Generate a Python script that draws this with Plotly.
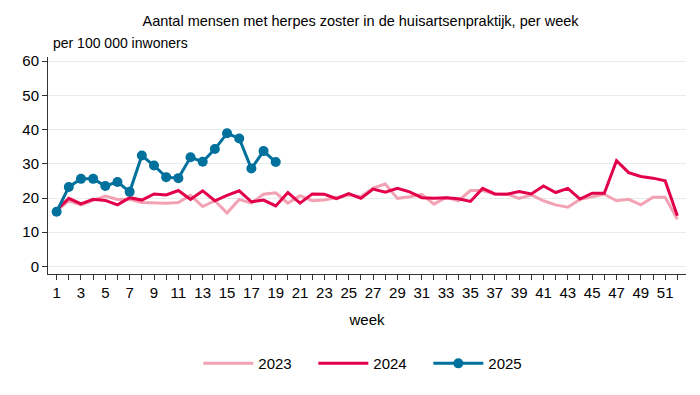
import plotly.graph_objects as go

weeks_2023 = list(range(1, 53))
values_2023 = [16.3, 19.2, 18.0, 19.4, 20.6, 19.6, 19.6, 18.7, 18.5, 18.5,
               18.7, 20.8, 17.5, 19.2, 15.6, 19.6, 18.5, 21.1, 21.5, 18.5,
               20.7, 19.2, 19.4, 20.2, 20.9, 20.4, 22.9, 24.1, 19.9, 20.4,
               21.1, 18.2, 20.2, 19.2, 22.2, 22.2, 21.2, 21.2, 19.9, 20.9,
               19.2, 18.0, 17.3, 19.6, 20.4, 21.1, 19.2, 19.6, 18.0, 20.2,
               20.2, 13.8]

weeks_2024 = list(range(1, 53))
values_2024 = [16.5, 19.9, 18.3, 19.6, 19.3, 18.0, 20.1, 19.4, 21.2, 20.9,
               22.2, 19.6, 22.1, 19.2, 20.8, 22.1, 18.9, 19.4, 17.7, 21.6,
               18.5, 21.2, 21.1, 19.8, 21.3, 19.9, 22.6, 21.7, 22.8, 21.8,
               20.1, 19.9, 20.1, 19.8, 19.0, 22.8, 21.2, 21.1, 21.9, 21.2,
               23.5, 21.6, 22.8, 19.7, 21.4, 21.4, 30.9, 27.4, 26.3, 25.8,
               25.0, 14.8]

weeks_2025 = list(range(1, 20))
values_2025 = [16.0, 23.2, 25.6, 25.6, 23.5, 24.7, 21.8, 32.4, 29.5, 26.1,
               25.8, 31.9, 30.6, 34.3, 38.9, 37.4, 28.6, 33.7, 30.5]

FONT = "Arial, Liberation Sans, sans-serif"
PINK = "#f3a2b4"
RED = "#e3004b"
BLUE = "#00719c"

fig = go.Figure()
fig.add_trace(go.Scatter(x=weeks_2023, y=values_2023, mode="lines", name="2023",
                         line=dict(color=PINK, width=3)))
fig.add_trace(go.Scatter(x=weeks_2024, y=values_2024, mode="lines", name="2024",
                         line=dict(color=RED, width=3)))
fig.add_trace(go.Scatter(x=weeks_2025, y=values_2025, mode="lines+markers", name="2025",
                         line=dict(color=BLUE, width=3),
                         marker=dict(color=BLUE, size=10)))

fig.update_layout(
    width=700, height=395,
    paper_bgcolor="white", plot_bgcolor="white",
    margin=dict(l=48, r=14, t=57, b=121),
    font=dict(family=FONT, size=14, color="#000000"),
    title=dict(text="Aantal mensen met herpes zoster in de huisartsenpraktijk, per week",
               x=0.515, xanchor="center", y=0.948, yanchor="middle",
               font=dict(size=14.5, color="#000000")),
    showlegend=True,
    legend=dict(orientation="h", x=0.506, xanchor="center", y=-0.413, yanchor="middle",
                font=dict(size=15), itemwidth=50, traceorder="normal",
                entrywidth=50, entrywidthmode="pixels"),
    xaxis=dict(
        range=[0.29, 52.71], tickmode="linear", tick0=1, dtick=2,
        ticks="outside", ticklen=5, tickcolor="#333333",
        showline=True, linecolor="#333333", linewidth=1,
        showgrid=False, zeroline=False,
        tickfont=dict(size=15),
        minor=dict(dtick=1, tick0=1, ticks="outside", ticklen=5, tickcolor="#333333", showgrid=False),
        title=dict(text="week", font=dict(size=15), standoff=14),
    ),
    yaxis=dict(
        range=[-2.2, 61.2], tickmode="linear", tick0=0, dtick=10,
        ticks="outside", ticklen=5, tickcolor="#333333",
        showline=True, linecolor="#333333", linewidth=1,
        showgrid=True, gridcolor="#e6eded", gridwidth=1, zeroline=False,
        tickfont=dict(size=15),
    ),
    annotations=[dict(text="per 100 000 inwoners", xref="paper", yref="paper",
                      x=0.0, y=1.0, xshift=3, yshift=14, xanchor="left", yanchor="middle",
                      showarrow=False, font=dict(size=14, color="#000000"))],
)

fig.write_html("out.html", config={"displayModeBar": False},
               post_script="document.body.style.margin='0';")
